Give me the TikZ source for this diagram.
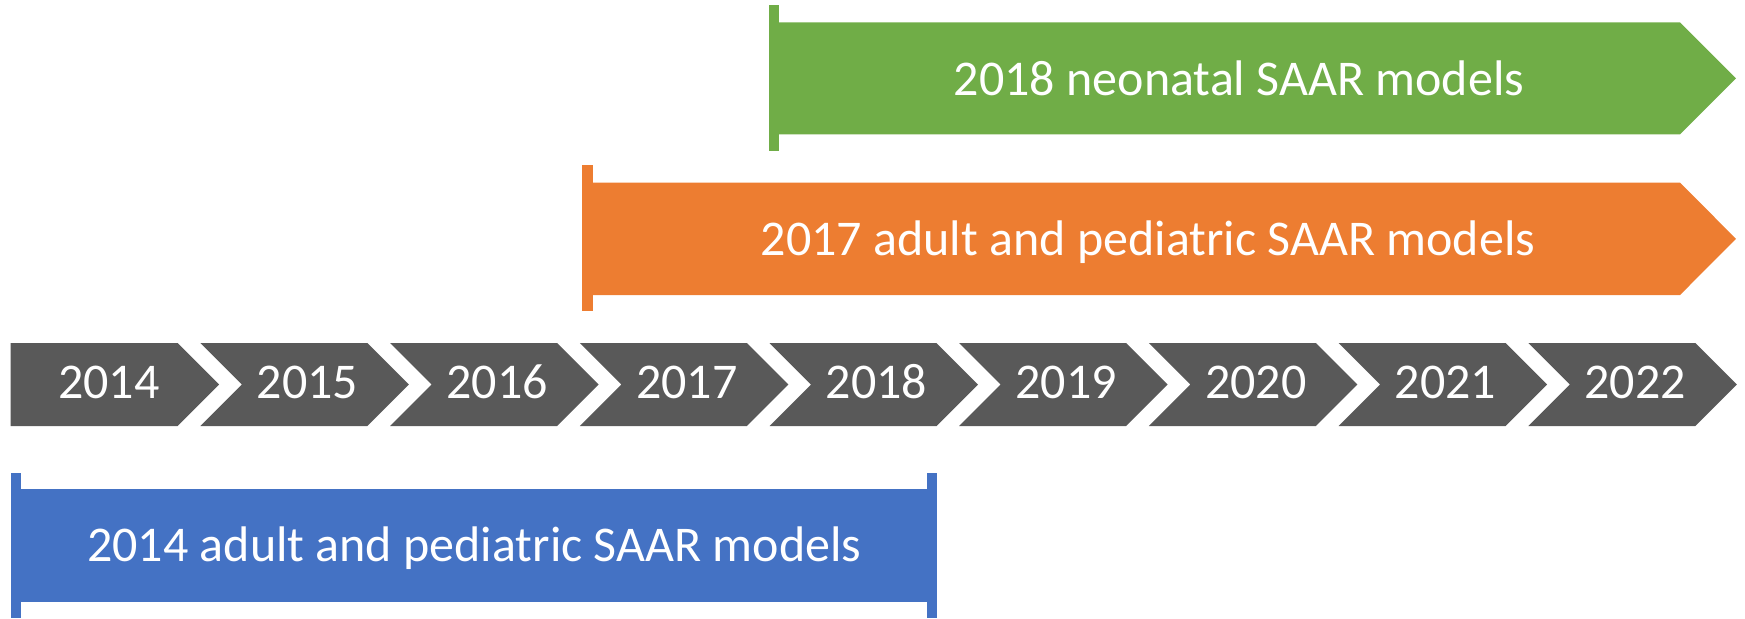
\documentclass[tikz,border=0pt]{standalone}
\usepackage{fontspec}
\setmainfont{Carlito}
\usepackage{tikz}
\definecolor{yeargray}{HTML}{595959}
\definecolor{neogreen}{HTML}{70AD47}
\definecolor{pedorange}{HTML}{ED7D31}
\definecolor{pedblue}{HTML}{4472C4}
\tikzset{bartext/.style={text=white,font=\fontsize{25}{30}\selectfont,
                         anchor=base,inner sep=0pt}}
\tikzset{yeartext/.style={bartext}}

\begin{document}
\begin{tikzpicture}[x=0.5pt,y=-0.5pt]
  \useasboundingbox (0,0) rectangle (1745,618);

  % Year chevrons along the middle row
  \foreach \yr [count=\i from 0] in {2014,2015,2016,2017,2018,2019,2020,2021,2022} {
    \pgfmathsetmacro\L{10.7+189.7*\i}
    \pgfmathsetmacro\notch{\i==0 ? 0 : 41.5}
    \pgfmathsetmacro\dx{\i==0 ? 98 : 107}
    \fill[yeargray] (\L,343) -- ++(167,0) -- ++(41.5,41.5) -- ++(-41.5,41.5)
      -- (\L,426) -- ++(\notch,-41.5) -- cycle;
    \node (y\yr) [yeartext] at (\L+\dx,398.5) {\yr};
  }

  % Neonatal models (green)
  \fill[neogreen] (769,22.3) -- (1680,22.3) -- (1736,78.3) -- (1680,134.3)
    -- (769,134.3) -- cycle;
  \fill[neogreen] (769,5.3) rectangle (779.3,150.7);
  \node (neo) [bartext] at (1239,95) {2018 neonatal SAAR models};

  % 2017 adult and pediatric models (orange)
  \fill[pedorange] (582.3,182.7) -- (1680,182.7) -- (1736,238.8) -- (1680,295)
    -- (582.3,295) -- cycle;
  \fill[pedorange] (582.3,165) rectangle (592.7,310.7);
  \node (ped17) [bartext] at (1148,255) {2017 adult and pediatric SAAR models};

  % 2014 adult and pediatric models (blue)
  \fill[pedblue] (11.3,489.3) rectangle (937.3,601.7);
  \fill[pedblue] (11.3,473.3) rectangle (21.3,618);
  \fill[pedblue] (927.3,473.3) rectangle (937.3,618);
  \node (ped14) [bartext] at (474.3,561.7) {2014 adult and pediatric SAAR models};
\end{tikzpicture}
\end{document}
